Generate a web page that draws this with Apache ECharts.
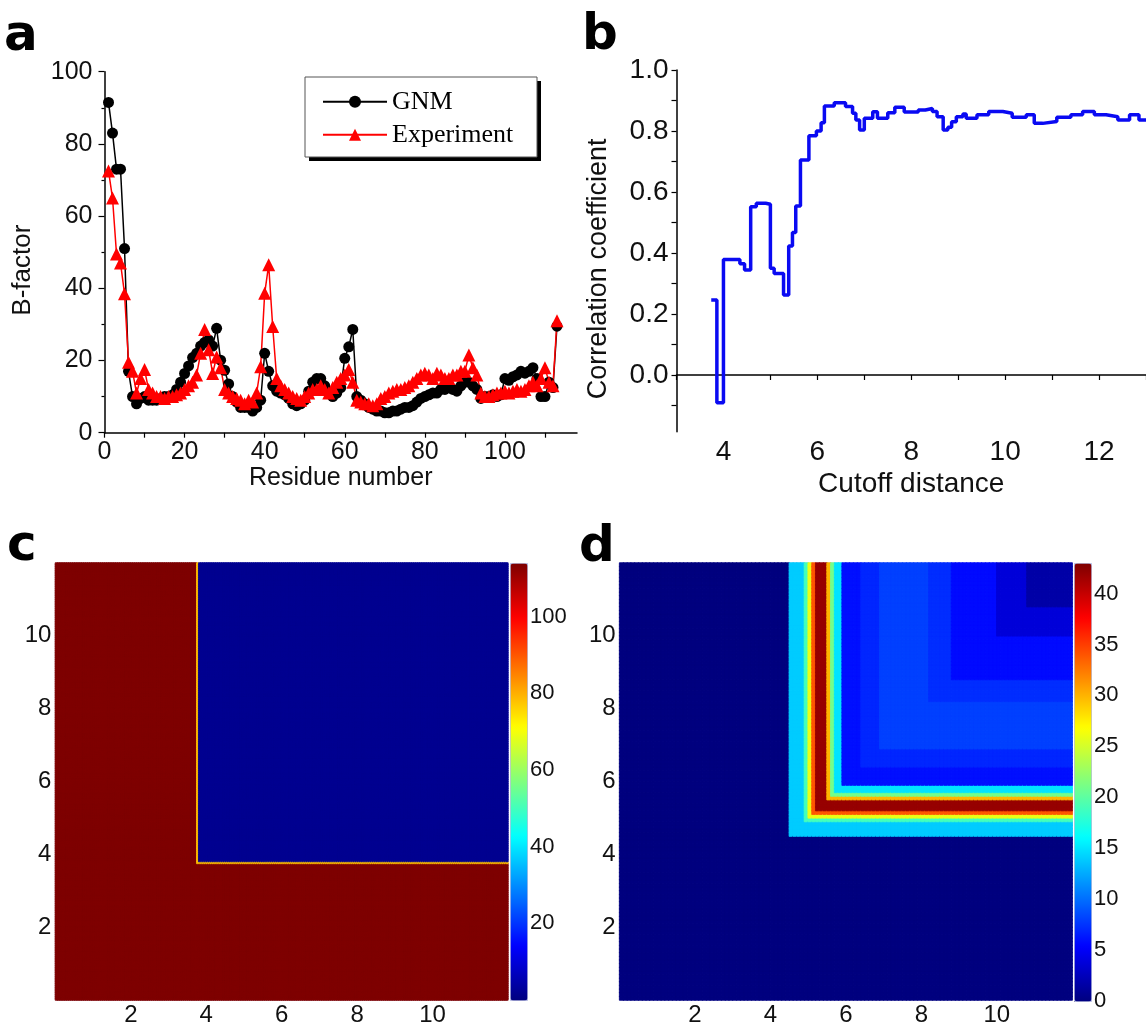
<!DOCTYPE html>
<html><head><meta charset="utf-8">
<script src="https://cdn.jsdelivr.net/npm/echarts@6/dist/echarts.min.js"></script>
<style>html,body{margin:0;padding:0;background:#fff}#chart{width:1146px;height:1027px}</style>
</head><body><div id="chart"></div>
<script>
// ---------- Panel a: B-factors ----------
const residueNumbers = Array.from({length: 113}, (_, i) => i + 1);
const gnmBFactor = [91.5,83,73,73,51,17,10,8,9.5,10,9,9,9,9.5,10,10,10.5,12,14,16.4,18.5,20.8,22,24,25,25.7,24,28.9,20.1,17.3,
  13.5,10,8.5,7,7,7,6,7,9,22,17,13,11.5,11,10.5,9.5,8,7.5,8,9,11.5,14,15,15,13,11,10,11,12.5,20.6,
  23.8,28.6,10,9,8,7,6.5,6,6,5.5,5.5,6,6,6.5,7,7,7.5,8.5,9.5,10,10.5,11,11,12,12,12.5,12,11.5,13,14,
  14,13,12,9.5,10,10,10.5,10,10.5,15,14.5,15.5,16,17,16.5,17,18,15,10,10,14,12.5,29.5];
const expBFactor = [72.5,65,49.5,47,38.5,19.5,17,11,15,17.5,12,11,10,10,9.5,10,10,10.5,11,12,13,14,16,22,28.6,23,16.4,21,18,12,
  11,10,9.5,9,8,9,8.5,11,18.3,38.6,46.5,29.4,15,13,12,11,10,9.5,9,10,11,12,12,13,12,11,12.5,14,15,16,
  17.5,14,9,8.5,8,8,7.5,8,9.5,10,11,11.5,12,12,12.5,13,14,15,16,16.5,16,15,16.5,16,15,15,16,16,17,17,
  21.5,18,16,11,10,10,10.5,11,11,11.5,11,11.5,12,11.5,12,13,14,13,15,18,14,13,31];
const bTickLabels = [0, 20, 40, 60, 80, 100];
const residueTickLabels = [0, 20, 40, 60, 80, 100];
const residueTicks = [0,10,20,30,40,50,60,70,80,90,100,110];

// ---------- Panel b: correlation vs cutoff (step changes) ----------
const cutoffSteps = [3.74,3.86,4.00,4.35,4.45,4.58,4.70,4.90,5.00,5.08,5.28,5.39,5.47,5.54,5.64,5.82,5.98,6.08,6.15,6.36,
  6.60,6.75,6.82,6.90,7.00,7.18,7.28,7.50,7.65,7.85,8.15,8.30,8.45,8.55,8.68,8.78,8.86,8.96,9.10,9.17,
  9.40,9.65,9.95,10.15,10.45,10.62,10.80,11.10,11.40,11.65,11.90,12.15,12.40,12.65,12.85,13.20];
const correlationValues = [0.246,-0.091,0.379,0.365,0.344,0.552,0.563,0.560,0.350,0.333,0.262,0.423,0.467,0.554,0.705,0.784,0.800,0.827,0.882,0.893,
  0.880,0.858,0.836,0.803,0.842,0.863,0.842,0.860,0.878,0.862,0.869,0.874,0.864,0.847,0.803,0.812,0.830,0.847,0.856,0.842,
  0.853,0.864,0.858,0.845,0.853,0.825,0.831,0.845,0.853,0.864,0.853,0.847,0.836,0.853,0.836,0.840];
const corrTickLabels = [0.0, 0.2, 0.4, 0.6, 0.8, 1.0];
const corrTicks = [-0.1,0,0.1,0.2,0.3,0.4,0.5,0.6,0.7,0.8,0.9,1.0];
const cutoffTickLabels = [4, 6, 8, 10, 12];
const cutoffTicks = [3,4,5,6,7,8,9,10,11,12,13];

// ---------- Panels c, d: matrices (value depends on min(row, col)) ----------
const matrixTickLabels = [2, 4, 6, 8, 10];
const matrixExtent = 12;
const contactCell = 0.05;
const contactBreaks = [3.75, 3.8];
const contactValues = [114, 78, 2];
const contactMax = 114;
const fluctCell = 0.1;
const fluctBreaks = [4.5, 4.9, 5.0, 5.1, 5.2, 5.5, 5.6, 5.7, 5.9, 6.4, 6.9, 8.2, 8.8, 10.0, 10.8];
const fluctValues = [0, 14, 19, 26, 34, 42, 30, 21, 15, 6.0, 7.0, 8.1, 7.3, 5.8, 3.8, 1.7];
const fluctMax = 43;
const contactBarTicks = [20, 40, 60, 80, 100];
const fluctBarTicks = [0, 5, 10, 15, 20, 25, 30, 35, 40];

const jet = ['#00007f','#0000ff','#007fff','#00ffff','#7fff7f','#ffff00','#ff7f00','#ff0000','#7f0000'];
const jetRgb = jet.map(h => [1, 3, 5].map(k => parseInt(h.substr(k, 2), 16)));
function jetColor(t) {
  t = Math.max(0, Math.min(1, t));
  const p = t * (jetRgb.length - 1);
  const k = Math.min(jetRgb.length - 2, Math.floor(p));
  const f = p - k;
  const c = jetRgb[k].map((v, n) => Math.round(v + (jetRgb[k + 1][n] - v) * f));
  return 'rgb(' + c.join(',') + ')';
}
function centers(cell) {
  const n = Math.round(matrixExtent / cell);
  return Array.from({length: n}, (_, i) => +((i + 0.5) * cell).toFixed(3));
}
const contactCenters = centers(contactCell);
const fluctCenters = centers(fluctCell);
function profileValue(m, breaks, vals) { let k = 0; while (k < breaks.length && m >= breaks[k]) k++; return vals[k]; }
function buildMatrix(cc, breaks, vals, vmax) {
  const out = [];
  for (let i = 0; i < cc.length; i++) for (let j = 0; j < cc.length; j++) {
    const v = profileValue(Math.min(cc[i], cc[j]), breaks, vals);
    out.push({value: [i, j, v], itemStyle: {borderColor: jetColor(v / vmax), borderWidth: 0.8}});
  }
  return out;
}

const FONT = 'Liberation Sans';
const TXT = '#111';
const axLine = {show: true, lineStyle: {color: '#000', width: 1.5}};

function hiddenAxis(grid, type, pos, data) {
  const a = {gridIndex: grid, type: type, show: false, position: pos};
  if (data) { a.data = data; a.boundaryGap = true; } else { a.min = 0; a.max = 1; }
  return a;
}
function matrixLabelAxis(grid, pos) {
  return {gridIndex: grid, type: 'value', position: pos, min: 0, max: matrixExtent,
    axisLine: {show: false}, axisTick: {show: false}, splitLine: {show: false},
    axisLabel: {customValues: matrixTickLabels, fontFamily: FONT, fontSize: 24, color: TXT, margin: pos === 'bottom' ? 3 : 4}};
}
function barAxis(grid, max, ticks) {
  return {gridIndex: grid, type: 'value', position: 'right', min: 0, max: max,
    axisLine: {show: false}, splitLine: {show: false},
    axisTick: {show: true, customValues: ticks, length: 3, lineStyle: {color: '#333'}},
    axisLabel: {customValues: ticks, fontFamily: FONT, fontSize: 22, color: TXT, margin: 3}};
}

const option = {
  animation: false,
  backgroundColor: '#fff',
  grid: [
    {left: 104.5, top: 71.7, width: 472.5, height: 361},
    {left: 676.5, top: 70, width: 476, height: 361.7},
    {left: 55.4, top: 563, width: 452.5, height: 437, show: true, borderColor: '#c4c6e8', borderWidth: 1, backgroundColor: 'transparent'},
    {left: 619.6, top: 563, width: 452.6, height: 438, show: true, borderColor: '#c4c6e8', borderWidth: 1, backgroundColor: 'transparent'},
    {left: 510, top: 563, width: 17, height: 437},
    {left: 1074, top: 563, width: 17, height: 438}
  ],
  xAxis: [
    {gridIndex: 0, type: 'value', min: 0, max: 118, axisLine: axLine, splitLine: {show: false},
      axisTick: {show: true, customValues: residueTicks, length: 5, lineStyle: {color: '#000', width: 1.2}},
      axisLabel: {customValues: residueTickLabels, fontFamily: FONT, fontSize: 25, color: TXT, margin: 7},
      name: 'Residue number', nameLocation: 'middle', nameGap: 33,
      nameTextStyle: {fontFamily: FONT, fontSize: 25, color: TXT}},
    {gridIndex: 1, type: 'value', min: 3, max: 13, axisLine: axLine, splitLine: {show: false},
      axisTick: {show: true, customValues: cutoffTicks, length: 5, lineStyle: {color: '#000', width: 1.2}},
      axisLabel: {customValues: cutoffTickLabels, fontFamily: FONT, fontSize: 28, color: TXT, margin: 7},
      name: 'Cutoff distance', nameLocation: 'middle', nameGap: 39,
      nameTextStyle: {fontFamily: FONT, fontSize: 28, color: TXT}},
    hiddenAxis(2, 'category', 'top', contactCenters),
    matrixLabelAxis(2, 'bottom'),
    hiddenAxis(3, 'category', 'top', fluctCenters),
    matrixLabelAxis(3, 'bottom'),
    hiddenAxis(4, 'value', 'bottom'),
    hiddenAxis(5, 'value', 'bottom')
  ],
  yAxis: [
    {gridIndex: 0, type: 'value', min: 0, max: 100, interval: 20, axisLine: axLine, splitLine: {show: false},
      axisTick: {show: true, length: 6, lineStyle: {color: '#000', width: 1.2}},
      minorTick: {show: true, splitNumber: 2, length: 3, lineStyle: {color: '#000', width: 1.2}},
      axisLabel: {customValues: bTickLabels, fontFamily: FONT, fontSize: 25, color: TXT, margin: 12},
      name: 'B-factor', nameLocation: 'middle', nameGap: 69,
      nameTextStyle: {fontFamily: FONT, fontSize: 26, color: TXT, padding: [0, 36, 0, 0]}},
    {gridIndex: 1, type: 'value', min: -0.186, max: 1.0, axisLine: axLine, splitLine: {show: false},
      axisTick: {show: true, customValues: corrTicks, length: 5, lineStyle: {color: '#000', width: 1.2}},
      axisLabel: {customValues: corrTickLabels, fontFamily: FONT, fontSize: 28, color: TXT, margin: 8,
        formatter: v => v.toFixed(1)},
      name: 'Correlation coefficient', nameLocation: 'middle', nameGap: 64,
      nameTextStyle: {fontFamily: FONT, fontSize: 27, color: TXT, padding: [0, 36, 0, 0]}},
    hiddenAxis(2, 'category', 'right', contactCenters),
    matrixLabelAxis(2, 'left'),
    hiddenAxis(3, 'category', 'right', fluctCenters),
    matrixLabelAxis(3, 'left'),
    barAxis(4, contactMax, contactBarTicks),
    barAxis(5, fluctMax, fluctBarTicks)
  ],
  legend: {
    orient: 'vertical', left: 322, top: 88.7, padding: 0, itemGap: 7,
    itemWidth: 64, itemHeight: 15, z: 10,
    textStyle: {fontFamily: 'Liberation Serif', fontSize: 26, color: '#000'},
    data: ['GNM', 'Experiment']
  },
  visualMap: [
    {type: 'continuous', seriesIndex: 3, min: 0, max: contactMax, calculable: false, orient: 'vertical',
      left: 510, top: 563, itemWidth: 17, itemHeight: 437, padding: 0, borderColor: '#b4b8e0', borderWidth: 1,
      inRange: {color: jet}, hoverLink: false},
    {type: 'continuous', seriesIndex: 4, min: 0, max: fluctMax, calculable: false, orient: 'vertical',
      left: 1074, top: 563, itemWidth: 17, itemHeight: 438, padding: 0, borderColor: '#b4b8e0', borderWidth: 1,
      inRange: {color: jet}, hoverLink: false}
  ],
  graphic: [
    {type: 'rect', shape: {x: 309, y: 81, width: 232, height: 80}, style: {fill: '#000'}, z: 1},
    {type: 'rect', shape: {x: 305, y: 77, width: 232, height: 80}, style: {fill: '#fff', stroke: '#555', lineWidth: 1}, z: 2},
    {type: 'text', x: 4, y: 37, z: 5, style: {text: 'a', fontFamily: 'DejaVu Sans', fontWeight: 900, fontSize: 50, fill: '#000', verticalAlign: 'middle'}},
    {type: 'text', x: 582, y: 36, z: 5, style: {text: 'b', fontFamily: 'DejaVu Sans', fontWeight: 900, fontSize: 50, fill: '#000', verticalAlign: 'middle'}},
    {type: 'text', x: 7, y: 547, z: 5, style: {text: 'c', fontFamily: 'DejaVu Sans', fontWeight: 900, fontSize: 50, fill: '#000', verticalAlign: 'middle'}},
    {type: 'text', x: 579, y: 548, z: 5, style: {text: 'd', fontFamily: 'DejaVu Sans', fontWeight: 900, fontSize: 50, fill: '#000', verticalAlign: 'middle'}}
  ],
  series: [
    {name: 'GNM', type: 'line', xAxisIndex: 0, yAxisIndex: 0,
      data: residueNumbers.map((r, i) => [r, gnmBFactor[i]]),
      symbol: 'circle', symbolSize: 11, color: '#000',
      itemStyle: {color: '#000'}, lineStyle: {color: '#000', width: 1.5}},
    {name: 'Experiment', type: 'line', xAxisIndex: 0, yAxisIndex: 0,
      data: residueNumbers.map((r, i) => [r, expBFactor[i]]),
      symbol: 'triangle', symbolSize: 13, color: '#f00',
      itemStyle: {color: '#f00'}, lineStyle: {color: '#f00', width: 1.5}},
    {name: 'Correlation', type: 'line', xAxisIndex: 1, yAxisIndex: 1, step: 'end',
      data: cutoffSteps.map((c, i) => [c, correlationValues[i]]),
      showSymbol: false, symbol: 'none', lineStyle: {color: '#0a0af2', width: 3.5}},
    {name: 'Contact', type: 'heatmap', xAxisIndex: 2, yAxisIndex: 2,
      data: buildMatrix(contactCenters, contactBreaks, contactValues, contactMax),
      progressive: 0, emphasis: {disabled: true}},
    {name: 'Fluctuation', type: 'heatmap', xAxisIndex: 4, yAxisIndex: 4,
      data: buildMatrix(fluctCenters, fluctBreaks, fluctValues, fluctMax),
      progressive: 0, emphasis: {disabled: true}}
  ]
};
const chart = echarts.init(document.getElementById('chart'), null, {renderer: 'canvas'});
chart.setOption(option);
</script></body></html>
